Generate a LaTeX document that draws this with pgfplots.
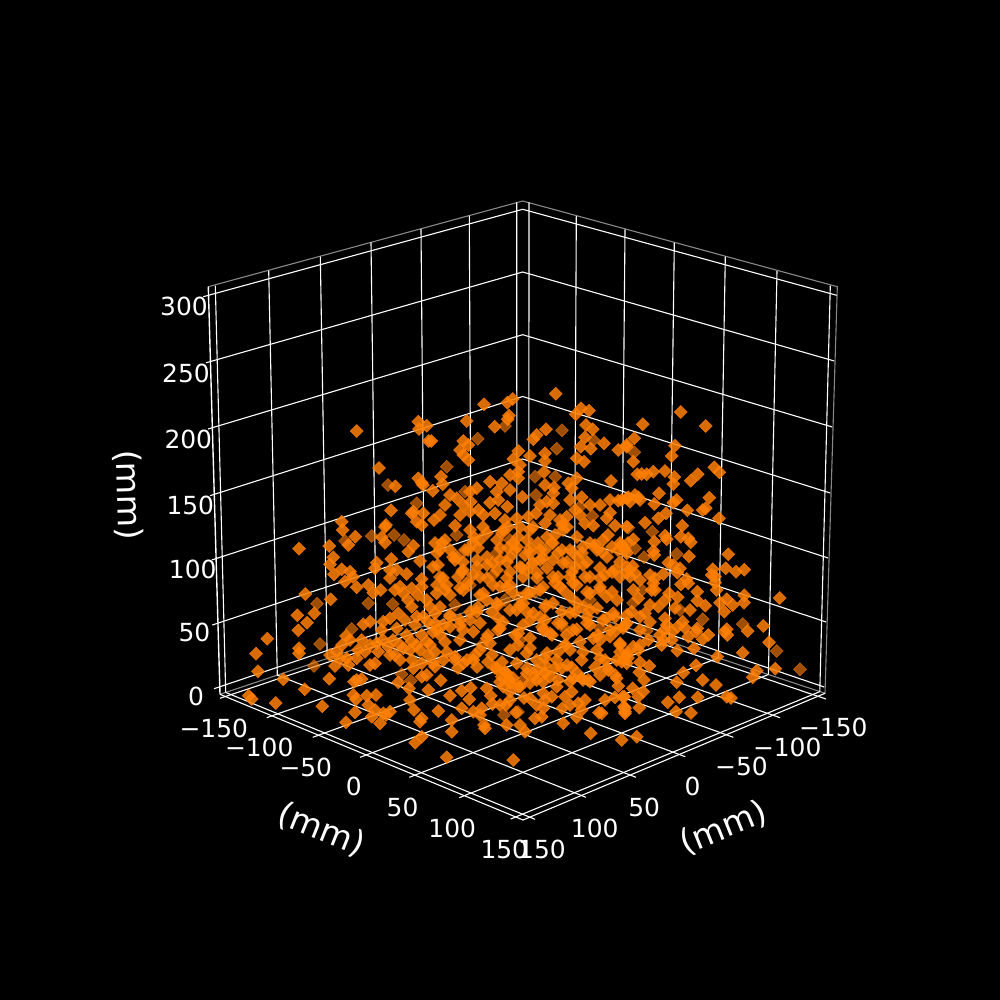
\documentclass[border=0pt]{standalone}
\usepackage{fontspec}
\setmainfont{DejaVu Sans}
\usepackage{pgfplots}
\pgfplotsset{compat=1.18}

\definecolor{scat}{RGB}{255,127,0}
\definecolor{pane}{RGB}{135,135,135}

% the view has perspective, so everything is kept as reference pixels (x, y down)
\pgfplotsset{
  gridl/.style={white,line width=.8pt,no marks},
  panel/.style={pane,line width=.8pt,no marks},
  bright/.style={only marks,mark=square*,mark size=3.3pt,mark options={rotate=45,draw=scat,fill=scat,opacity=.85}},
  dark/.style={only marks,mark=square*,mark size=3.3pt,mark options={rotate=45,draw=scat,fill=scat,opacity=.62}},
}
\tikzset{
  lab/.style={white,inner sep=0pt,text height=13.2pt,text depth=0pt,font=\fontsize{18}{20}\selectfont},
  axl/.style={white,inner sep=0pt,font=\fontsize{24}{28}\selectfont},
}

\begin{document}
\begin{tikzpicture}
\fill[black] (0,0) rectangle (10in,10in);
\begin{axis}[
    at={(0,0)}, anchor=south west,
    scale only axis, width=10in, height=10in,
    xmin=0, xmax=1000, ymin=0, ymax=1000,
    y dir=reverse,
    hide axis,
    clip=false,
]
% panes
\addplot[panel] coordinates {(208.3,286.7) (522.7,201) (837.3,286.7) (825,693.3) (522.7,593) (220,694.3)};
\addplot[gridl,line width=1pt] coordinates {(208.3,286.7) (220,694.3)};

% vertical grid, left wall
\addplot[gridl] coordinates {(215.3,285.7) (225.7,692.4)};
\addplot[gridl] coordinates {(268.7,270.7) (277.3,675.1)};
\addplot[gridl] coordinates {(320.3,256.7) (327.2,658.4)};
\addplot[gridl] coordinates {(371,242.3) (376.2,642)};
\addplot[gridl] coordinates {(421,229) (424.5,625.8)};
\addplot[gridl] coordinates {(469.3,215.7) (471.1,610.2)};
\addplot[gridl] coordinates {(516.7,202.3) (516.9,594.9)};
% vertical grid, right wall
\addplot[gridl] coordinates {(529,202.3) (528.8,595)};
\addplot[gridl] coordinates {(576.3,216) (574.5,610.1)};
\addplot[gridl] coordinates {(625,229.3) (621.5,625.7)};
\addplot[gridl] coordinates {(674.3,242.7) (669.1,641.5)};
\addplot[gridl] coordinates {(725.3,256.7) (718.4,657.9)};
\addplot[gridl] coordinates {(777,271) (768.4,674.5)};
\addplot[gridl] coordinates {(830.3,285.7) (819.8,691.6)};
% z grid
\addplot[gridl] coordinates {(203.3,296.7) (522.7,209.3) (836.7,295.3)};
\addplot[gridl] coordinates {(206,362.8) (522.7,272) (834.3,361)};
\addplot[gridl] coordinates {(208,429) (522.7,334.7) (832.3,427)};
\addplot[gridl] coordinates {(210,495.7) (522.7,396.5) (830.2,493)};
\addplot[gridl] coordinates {(211.7,560) (522.7,459) (828.1,558)};
\addplot[gridl] coordinates {(212.3,625) (522.7,521.7) (826.2,622)};
\addplot[gridl] coordinates {(214,688.7) (522.7,584.5) (824.2,687)};
% floor grid
\addplot[gridl] coordinates {(220,698.3) (528.8,595)};
\addplot[gridl] coordinates {(266.7,717.7) (574.5,610.1)};
\addplot[gridl] coordinates {(312.7,737.3) (621.5,625.7)};
\addplot[gridl] coordinates {(360,757.3) (669.1,641.5)};
\addplot[gridl] coordinates {(409.3,777.3) (718.4,657.9)};
\addplot[gridl] coordinates {(459.3,797.7) (768.4,674.5)};
\addplot[gridl] coordinates {(510.7,819) (819.8,691.6)};
\addplot[gridl] coordinates {(826,699) (516.9,594.9)};
\addplot[gridl] coordinates {(780,717.7) (471.1,610.2)};
\addplot[gridl] coordinates {(733.3,737.3) (424.5,625.8)};
\addplot[gridl] coordinates {(685.3,756.7) (376.2,642)};
\addplot[gridl] coordinates {(636,777.3) (327.2,658.4)};
\addplot[gridl] coordinates {(586,797.3) (277.3,675.1)};
\addplot[gridl] coordinates {(535,819.3) (225.7,692.4)};
% front axis lines
\addplot[gridl] coordinates {(220,694.3) (523,820) (825,693.3)};

% darker points (far from the viewer)
\addplot[dark] coordinates {
(416.7,503.3) (505,426) (562,430.3) (593.3,440) (477.7,438.7) (556.7,448.7) (446.7,466.7) (535,476.7) (555.3,476.7)
(536,495) (456.7,535) (592.3,516) (634.3,452.3) (652.3,531.7) (646.7,630.7) (465,491.7) (580,506.7)
(404,540) (394,535) (388,485) (345,541) (371.7,536) (628.3,527.7) (635,548.3) (644,557.3) (676.7,554)
(510,540) (533,563) (553,543) (573,552) (497,553) (520,598) (546,605) (563,627) (505,600) (493,575)
(590,600) (470,585) (455,605) (566,645) (520,640) (482,645) (545,672) (523,680) (518,712) (504,715)
(535,592) (600,628) (642,590) (633,603) (680,610) (702.7,619.3) (742.7,624) (776.7,651) (800,669.3)
(351.7,629) (368.3,603.3) (392.7,604) (401.7,674.3) (410.7,680.7) (314,666) (317,603.7) (320,644)
};
% dense core, read blob by blob
\addplot[bright] coordinates {
(437,585) (445,590) (460,588) (467,583) (480,595) (493,585) (507,587) (513,593) (530,593) (543,587) (555,583) (563,590)
(573,583) (587,592) (600,587) (612,592) (617,600)
(440,607) (450,615) (460,620) (470,612) (478,607) (492,612) (498,605) (503,622) (520,605) (527,612) (540,617) (545,607)
(553,603) (570,613) (577,603) (587,617) (597,608) (603,620) (615,617) (627,615)
(437,630) (450,627) (463,630) (480,623) (488,635) (498,630) (515,635) (523,625) (542,627) (552,635) (558,623) (573,630)
(587,623) (598,635) (610,630) (623,628)
(435,652) (447,652) (455,660) (467,660) (480,650) (475,655) (492,655) (502,662) (518,645) (530,648) (547,653) (558,652)
(565,645) (583,652) (597,650) (605,660) (620,652) (627,655)
(433,663) (458,668) (477,667) (488,662) (495,668) (505,672) (513,678) (527,668) (535,675) (545,665) (555,668) (567,665)
(577,673) (588,680) (607,668) (615,675)
(500,682) (510,683) (518,687) (530,683) (543,682) (558,680) (573,678) (583,680)
(474,537) (487,533) (508,527) (533,527) (547,537) (562,525)
(440,550) (453,557) (465,550) (473,543) (500,548) (517,547) (530,548) (540,550) (552,543) (558,553) (570,550) (582,553)
(595,545) (602,552) (612,547) (625,550)
(433,567) (455,560) (463,570) (477,567) (493,563) (507,562) (522,568) (533,563) (543,558) (563,563) (575,567) (587,562)
(600,568) (615,570) (627,567)
(440,577) (458,577) (473,575) (487,578) (507,578) (523,577) (537,578) (553,577) (570,577) (585,577) (600,578) (620,577)
(395,590) (408,600) (418,595) (430,607) (428,622) (415,625) (405,620) (393,640) (400,645) (410,650) (420,650) (430,645)
(433,632) (428,655) (412,660) (400,660) (395,655) (383,640) (370,645) (358,650) (342,645)
(640,580) (655,590) (665,600) (675,608) (690,610) (640,630) (650,622) (660,635) (672,632) (685,628)
(440,515) (460,515) (505,520) (540,505) (575,510) (590,505) (610,500)
(500,705) (545,700) (570,705) (510,700) (585,700)
};
% brighter points
\addplot[bright] coordinates {
(356.7,431) (418.3,421.7) (419,429) (426.7,425.7) (428.7,441) (379,468) (418.3,478.3) (395.3,486.3)
(421.7,482.7) (423,485) (391,510.3) (413.3,511.7) (423.3,513.3) (411.7,513.3) (416.7,521.7) (421.7,525)
(341.7,521.7) (342.7,530) (386,525) (385,527) (355.3,536.7) (381.7,537.3) (385,542.7) (348.3,545)
(329.3,546) (299,548.7) (413.3,545.7) (408.3,551.7) (333.3,557.3) (330,564.3) (420,561) (391.3,559)
(376.7,562.7) (375,568.3) (390,570) (396.7,570) (341.7,569.3) (350,571.7) (334,574.3) (406.7,574)
(390,578) (421.7,579) (353,577)
(305.3,594) (330.7,599.3) (297.3,615.3) (314.3,613.3) (307,622.7) (298.3,630.3) (267.3,638.7) (256,653.7)
(299,648.3) (299,653.3) (258,671.3) (283.3,679.3) (329.3,678.7) (304.7,689.3) (248.7,695.7) (251.7,699)
(275.7,703) (322.3,706.3) (346,722.3) (355,712.3) (356.7,680) (361.7,679) (354,681.7) (353.3,695)
(356,699.3) (366.7,695.7) (376,695) (368.3,705) (375,710) (371.7,716.7) (380,723.3) (383.3,713.3)
(390,711.7) (386,715) (415.3,742.7) (421.7,736.7) (421.7,718.3) (420,721.7) (414,710) (410,700) (409,688.3)
(398.3,682.3) (413.3,668.3) (421.7,676.7) (421.7,663.3) (428.3,690) (426.7,675)
(356.7,587.3) (345,581.7) (368.3,585) (373.3,592.7) (380.7,590) (398.3,613.3) (400,586.7) (403.3,593.3)
(411.7,606.7) (416.7,616.7) (423.3,616.7) (411.7,588.3) (421.7,586.7) (426.7,600) (346,636) (363.3,624.3)
(370,621.7) (383.3,621.7) (390,618.3) (381.7,630) (396.7,628.3) (361.7,640) (350,640) (330,655) (336.7,651.7)
(340,658.3) (335,666) (346.7,658.3) (356.7,658.3) (348.3,665) (365,651.7) (370,665) (375,663.3) (378.3,651.7)
(390,655) (388.3,646.7) (376.7,643.3) (406.7,635) (411.7,641.7) (416.7,645) (421.7,635) (426.7,641.7) (403.3,648.3)
(555.7,393.7) (484,404.3) (512.7,399) (507.3,402.7) (581,408.3) (575.7,414.3) (589,410.7) (466.7,421) (509,415.7)
(507.7,419.3) (494.7,426.7) (546,429.3) (586,425) (592.7,429.3) (585,437.3) (536.7,435) (533.3,439.3) (431.3,441)
(463.3,441) (468.3,445) (460,450) (604,443.3) (580.7,446.7) (590.7,448.7) (618.3,450) (626.7,446.7) (518.3,451)
(545,453.3) (530,456) (468.3,460) (463.3,455) (513.3,459) (520,465) (576.7,458.3) (584,461.7) (545,461) (544,472)
(518.3,471.7) (510,475) (441,476.7) (442.7,484.3) (611,481) (432.7,490.7) (490,481.7) (501.7,483.3) (518.3,478.3)
(470,491.7) (476.7,488.3) (510,490) (496.7,491.7) (554,487.3) (545,485) (568.3,483.3) (576.7,478.3) (571.7,488.3)
(522.3,497) (450,495) (445,505) (456.7,498.3) (463.3,505) (470.7,501.7) (490,502.7) (498.3,500) (507.3,506.7)
(553.3,493.3) (546.7,501.7) (570,500) (581.7,497.3) (600,505) (618.3,500.7) (626.7,498.3) (553.3,503.3)
(434,520) (455,525.7) (470,511.7) (478.3,510) (483.3,515) (495,513.3) (516.7,518.3) (528.3,516.7) (536,513.3)
(545,523.3) (550,515) (560,520) (566.7,516.7) (580,515) (610,512.7) (606.7,518.3) (585,523.3) (593.3,525.7)
(615,525.7) (626.7,526.7)
(470,530) (483,527) (503,530) (520,527) (530,530) (563,530) (567,527) (442,543) (445,540) (435,543) (437,553)
(438,565) (457,557) (463,562) (468,550) (478,548) (480,540) (487,557) (487,565) (508,548) (513,543) (510,557)
(518,537) (527,540) (538,543) (545,550) (540,560) (547,568) (562,550) (567,562) (577,537) (583,547) (590,543)
(597,550) (608,535) (607,557) (603,540) (620,543) (618,550) (628,543) (620,562) (612,572) (605,575) (583,565)
(577,557) (572,572) (520,567) (510,572) (527,570) (497,540) (502,533) (462,572) (480,577) (443,578) (497,570)
(530,553) (553,560) (537,573) (558,577) (590,577) (477,560) (450,550) (525,555) (515,550) (500,560) (555,535)
(680.7,412) (642.7,424.3) (705.7,426) (634.3,438.3) (626.7,445) (675,445.7) (671.7,456) (633.3,461.7) (714.3,467.3)
(719.3,472.3) (697.7,474.3) (690.7,480.7) (665,471) (653.3,471.7) (646.7,474.3) (641.7,474) (637.3,474.3) (674.3,477)
(673.3,484) (659,493.3) (709.3,497.7) (638.3,497.3) (635,495) (628.3,497.3) (640,500) (630,501.7) (621.7,500)
(654.3,504) (676.7,500) (673.3,502.7) (705.7,508.3) (702.7,510) (687.3,510.3) (719,518.3) (666,513.3) (658.3,518.3)
(645,522.7) (682.3,525.7) (665,535.7) (666.7,539.3) (680.7,536.7) (688.3,538.3) (690.7,542.3) (654.3,541.7)
(633.3,539.3) (621.7,545) (626.7,553.3) (653.3,551) (654.3,555) (689,556.3) (728.3,554.3) (668.3,562.7) (673.3,565)
(680,568.3) (677.3,572.7) (725.7,568.3) (736,571.7) (744.3,569.7) (712.7,569.3) (711.7,575) (715,576.7) (632.7,566)
(626.7,572.7) (635,573.3) (630,576.7) (650,575) (663.3,574) (655,578.3) (686.7,579)
(779.7,598) (744.3,595.3) (744,602.7) (732.7,605) (726.7,599.3) (720,602.7) (724.3,611.7) (716.7,590) (715,582.7)
(697.3,591.7) (697.3,600.7) (705.3,605.7) (688.3,583.3) (681,584.3) (677.7,597.3) (669,593.3) (653.3,583.3) (651.7,590)
(633.3,590) (638.3,598.3) (658.3,606.7) (650,605) (645,613.3) (631.7,611.7) (640,616.7) (625,625) (682.7,621.7)
(665,618.3) (666.7,625) (677.7,626.7) (697.3,628.3) (696,631.7) (708.3,635) (702.7,639.3) (688.3,636.7) (664.3,630)
(726.7,629.3) (727.3,635) (724.7,631.7) (747.7,631) (763.3,626) (769,642.3) (742.7,652.7) (775.3,668.7) (756.7,670.7)
(752.7,677.3) (717.3,656.7) (694,648.3) (696,665.3) (683.3,672.7) (676.7,682.3) (702.7,680) (716,685) (697.7,697.3)
(726.7,696.7) (731,698) (679.3,697.3) (667.7,702.3) (676,711.7) (691,713) (671.7,640) (661.7,645) (663.3,640)
(677.3,650.7) (648.3,640) (640,645) (633.3,646.7) (638.3,650) (626.7,653.3) (621.7,661.7) (628,658) (649.3,666)
(640,662.3) (639.3,672.3) (644,680) (632.7,688.3) (643.3,691.7) (638.3,696.7) (622.7,696.7) (639.3,707.7) (625,708.3)
(625,713.3) (636.7,736.7) (621.7,740) (620,645)
(446.7,757.3) (513.3,760) (590.7,733.3) (451.7,731.7) (451.7,720) (438.3,711) (485,728.3) (484,725) (506.7,725)
(520,725) (525,731.7) (563.3,723.3) (576.7,717.3) (601.7,713.3) (599,712.7) (625,711.7) (624,706.7) (450,695.7)
(440.7,680.3) (470.7,687.7) (461.7,690.7) (469.3,699.3) (486.7,688.3) (490.7,695.7) (492.3,704) (461.7,708.3)
(473.3,711.7) (481.7,708.3) (480,715) (506,705) (516,712.3) (536.7,705) (543.3,708.3) (535,718.3) (541.7,716.7)
(562.3,708.3) (578.3,703.3) (581.7,710) (551.7,696.7) (565,696.7) (571.7,691.7) (605,700) (615,697.3) (624.3,696.7)
(530,698.3) (524,698) (618.3,686) (616.7,678.3) (590,681.7) (581.7,678.3) (570,681.7) (556.7,686.7) (543.3,693.3)
(520,686.7) (510,680) (501.7,676.7) (503.3,686.7) (510,691.7) (608.3,670) (600,658.3) (595,667.3) (616.7,660)
(626.7,663.3) (593.3,638.3) (600,640) (610,636.7) (620,643.3) (616.7,630) (576.7,629.3) (580,641.7) (570,650)
(581.7,660) (571.7,667.3) (561.7,668.3) (545,658.3) (536.7,670) (550,676.7) (526.7,653.3) (510,650) (496.7,668.3)
(473.3,660) (463.3,663.3) (455,656.7) (443.3,660) (435,666.7) (486.7,638.3) (490,643.3) (473.3,631.7) (470,620)
(450,616.7) (443.3,625) (435,623.3) (498.3,618.3) (500,628.3) (518.3,633.3) (516.7,610) (523.3,603.3) (545,620)
(543.3,630) (550,633.3) (561.7,623.3) (566.7,635) (561.7,611.7) (570,596.7) (590,610) (583.3,606.7) (606.7,596.7)
(613.3,613.3) (600,590) (626.7,623.3) (606.7,618.3) (476.7,611.7) (483.3,593.3) (463.3,590) (446.7,585) (436.7,593.3)
(450,595) (500,586.7) (510,585) (526.7,593.3) (540,590) (560,586.7) (576.7,585) (590,593.3) (496.7,603.3) (486.7,600)
(510,610) (533.3,613.3) (435,613.3) (526.7,673.3) (506.7,673.3) (516.7,663.3) (536.7,660) (556.7,660) (545,673.3)
(536.7,680) (460,640) (445,642) (530,638) (575,612) (600,675) (440,635) (460,625) (590,625) (530,620)
};

% tick labels
\node[lab] at (axis cs:184,306) {300};
\node[lab] at (axis cs:186,373.3) {250};
\node[lab] at (axis cs:188.3,439.3) {200};
\node[lab] at (axis cs:190.3,505) {150};
\node[lab] at (axis cs:192.7,569) {100};
\node[lab] at (axis cs:194.5,632.7) {50};
\node[lab] at (axis cs:196,696.7) {0};

\node[lab] at (axis cs:213.8,728) {−150};
\node[lab] at (axis cs:259.2,747.7) {−100};
\node[lab] at (axis cs:305.8,767.3) {−50};
\node[lab] at (axis cs:353.7,786.7) {0};
\node[lab] at (axis cs:402.5,807.3) {50};
\node[lab] at (axis cs:452.2,828.3) {100};
\node[lab] at (axis cs:504.3,849.3) {150};

\node[lab] at (axis cs:833.3,727.7) {−150};
\node[lab] at (axis cs:787.2,747.7) {−100};
\node[lab] at (axis cs:741.5,766.7) {−50};
\node[lab] at (axis cs:692.5,786.7) {0};
\node[lab] at (axis cs:644.2,807.3) {50};
\node[lab] at (axis cs:594.7,828.3) {100};
\node[lab] at (axis cs:542,849.3) {150};

% axis labels
\node[axl,rotate=-22] at (axis cs:321.7,830) {(mm)};
\node[axl,rotate=22] at (axis cs:724,828.3) {(mm)};
\node[axl,rotate=-88.4] at (axis cs:128,495) {(mm)};
\end{axis}
\end{tikzpicture}
\end{document}
